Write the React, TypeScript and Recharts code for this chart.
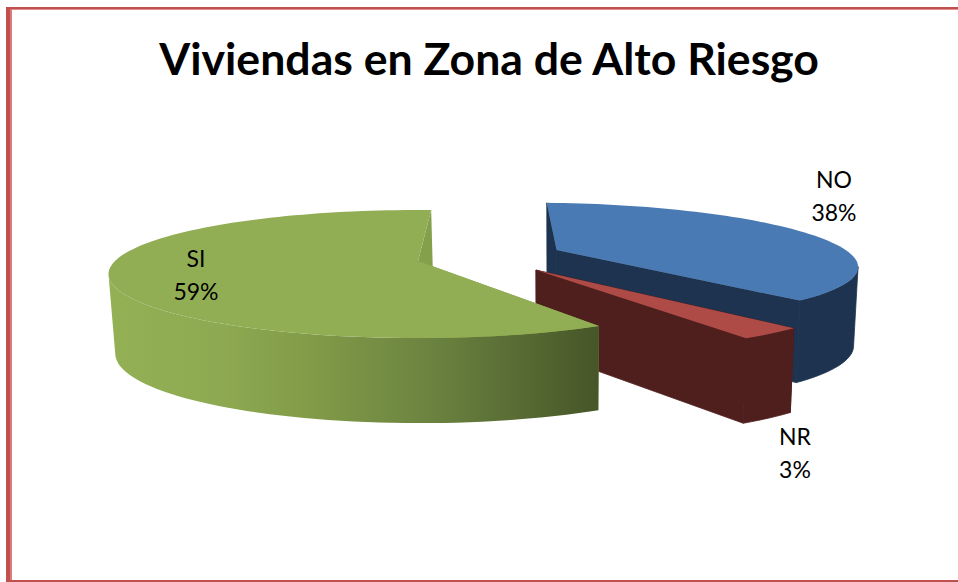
import { PieChart, Pie } from 'recharts';

const CATEGORIES = ['NO', 'NR', 'SI'];
const VALUES = [38, 3, 59];
const TOP_COLORS = ['#4A7AB4', '#AE4B47', '#92AE54'];
const WALL_COLORS = ['#1D334F', '#4F1F1E', 'url(#siWall)'];
const CUT_COLORS = ['#1D334F', '#4F1F1E', '#84A04B'];

const chartData = CATEGORIES.map((name, i) => ({ name, value: VALUES[i] }));

// fake 3D: each slice lives on a unit disc that gets projected with some perspective
const TILT = 0.2026;
const PERSPECTIVE = 0.204;
const VANISH_X = 560;
const SHRINK = 0.985;
const SLICE_VIEW: Record<string, { dx: number; dz: number; scale: number }> = {
  NO: { dx: 0.475, dz: -0.186, scale: 0.99 },
  NR: { dx: 0.378, dz: 0.143, scale: 0.985 },
  SI: { dx: 0, dz: 0, scale: 1 },
};
const LABEL_POS: Record<string, [number, number]> = {
  NO: [834, 188],
  NR: [795, 445],
  SI: [196, 267],
};

type Pt = [number, number];

function WedgeShape(props: any) {
  const { cx, cy, outerRadius, startAngle, endAngle, name, tooltipPayload } = props;
  const sliceName: string = name ?? tooltipPayload?.[0]?.name;
  const i = CATEGORIES.indexOf(sliceName);
  const view = SLICE_VIEW[sliceName];

  const project = (r: number, angle: number): { top: Pt; bottom: Pt } => {
    const rad = (angle * Math.PI) / 180;
    const x = r * view.scale * Math.cos(rad) + view.dx;
    const z = -r * view.scale * Math.sin(rad) + view.dz;
    const w = 1 - PERSPECTIVE * z;
    const px = cx + (outerRadius * x) / w;
    const py = cy + (outerRadius * TILT * z) / w;
    const depth = 78 + 7 * z;
    return {
      top: [px, py],
      bottom: [VANISH_X + (px - VANISH_X) * SHRINK, py + depth],
    };
  };

  const rim: { top: Pt; bottom: Pt }[] = [];
  const steps = Math.max(2, Math.ceil(Math.abs(endAngle - startAngle) / 2));
  for (let s = 0; s <= steps; s++) {
    rim.push(project(1, startAngle + ((endAngle - startAngle) * s) / steps));
  }
  const apex = project(0, 0);
  const first = rim[0];
  const last = rim[rim.length - 1];

  // only the part of the rim facing the viewer gets a wall (x falls going clockwise)
  const front = rim.filter((p, k) => {
    const next = rim[k + 1];
    const prev = rim[k - 1];
    return (next && next.top[0] < p.top[0]) || (prev && prev.top[0] > p.top[0]);
  });

  const path = (pts: Pt[]) => pts.map((p) => p.join(',')).join(' ');
  // hides the hairline between neighbouring flat walls
  const seam = i < 2 ? { stroke: CUT_COLORS[i], strokeWidth: 0.8 } : {};

  return (
    <g>
      <polygon points={path([first.top, apex.top, apex.bottom, first.bottom])} fill={CUT_COLORS[i]} {...seam} />
      <polygon points={path([apex.top, last.top, last.bottom, apex.bottom])} fill={CUT_COLORS[i]} {...seam} />
      <polygon
        points={path([...front.map((p) => p.top), ...front.map((p) => p.bottom).reverse()])}
        fill={WALL_COLORS[i]}
        {...seam}
      />
      <polygon points={path([apex.top, ...rim.map((p) => p.top)])} fill={TOP_COLORS[i]} />
    </g>
  );
}

function sliceLabel(props: any) {
  const { name, percent } = props;
  const [x, y] = LABEL_POS[name];
  return (
    <text x={x} y={y} textAnchor="middle" fontFamily="Lato, sans-serif" fontSize={23} fill="#000">
      <tspan x={x}>{name}</tspan>
      <tspan x={x} dy={33}>{`${Math.round(percent * 100)}%`}</tspan>
    </text>
  );
}

export default function App() {
  return (
    <div style={{ position: 'absolute', left: 0, top: 0, width: 958, height: 582, background: '#fff' }}>
      <PieChart width={958} height={582} margin={{ top: 0, right: 0, bottom: 0, left: 0 }}>
        <defs>
          <linearGradient id="siWall" gradientUnits="userSpaceOnUse" x1={110} y1={0} x2={598} y2={0}>
            <stop offset="0" stopColor="#93B055" />
            <stop offset="0.2" stopColor="#8FAB52" />
            <stop offset="0.4" stopColor="#829C49" />
            <stop offset="0.65" stopColor="#6C8440" />
            <stop offset="1" stopColor="#465628" />
          </linearGradient>
        </defs>
        <rect x={6} y={7} width={952} height={2} fill="#C0504D" />
        <rect x={10} y={9} width={948} height={1} fill="#E08D8B" />
        <rect x={6} y={7} width={4} height={575} fill="#C0504D" />
        <rect x={10} y={9} width={2} height={573} fill="#DB7B78" />
        <rect x={6} y={580} width={952} height={2} fill="#C0504D" />
        <text x={489} y={75} textAnchor="middle" fontFamily="Lato, sans-serif" fontWeight={700} fontSize={44.6} fill="#000">
          Viviendas en Zona de Alto Riesgo
        </text>
        <Pie
          data={chartData}
          dataKey="value"
          nameKey="name"
          cx={418}
          cy={261}
          outerRadius={303}
          startAngle={87}
          endAngle={-273}
          stroke="none"
          shape={WedgeShape}
          label={sliceLabel}
          labelLine={false}
          isAnimationActive={false}
        />
      </PieChart>
    </div>
  );
}
